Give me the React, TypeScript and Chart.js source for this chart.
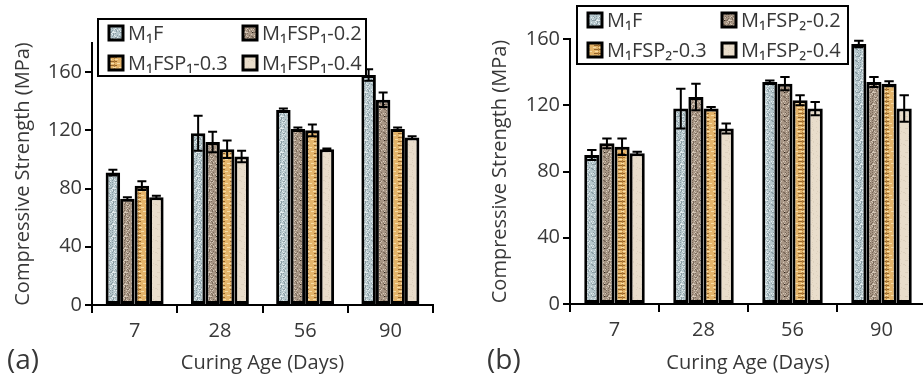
import React, { useEffect, useRef } from 'react';
import { Chart, registerables } from 'chart.js';

Chart.register(...registerables);

// ---------- data ----------
const categories = ['7', '28', '56', '90'];
const yTicksA = [0, 40, 80, 120, 160];
const yTicksB = [0, 40, 80, 120, 160];

const labelsA = ['M₁F', 'M₁FSP₁-0.2', 'M₁FSP₁-0.3', 'M₁FSP₁-0.4'];
const labelsB = ['M₁F', 'M₁FSP₂-0.2', 'M₁FSP₂-0.3', 'M₁FSP₂-0.4'];

// panel (a)
const aM1F = [91, 118, 134, 158];
const aM1FErr = [2, 12, 1, 4];
const aP02 = [73, 112, 121, 141];
const aP02Err = [1, 7, 1, 5];
const aP03 = [82, 107, 120, 121];
const aP03Err = [3, 6, 4, 1];
const aP04 = [74, 102, 107, 115];
const aP04Err = [1, 4, 0.5, 1];

// panel (b)
const bM1F = [90, 118, 134, 157];
const bM1FErr = [3, 12, 1, 2];
const bP02 = [97, 125, 133, 134];
const bP02Err = [3, 8, 4, 3];
const bP03 = [95, 118, 123, 133];
const bP03Err = [5, 1, 3, 1.5];
const bP04 = [91, 106, 118, 118];
const bP04Err = [1, 3, 4, 8];

const FONT = "'Open Sans', sans-serif";
const TEXT = '#383838';

// ---------- textures ----------
function makePattern(kind: number): CanvasPattern | string {
  const c = document.createElement('canvas');
  c.width = 12;
  c.height = 12;
  const g = c.getContext('2d');
  if (!g) return '#ccc';
  const bases = ['#b6c7cc', '#a79584', '#e4b46a', '#e9ddcb'];
  g.fillStyle = bases[kind];
  g.fillRect(0, 0, 12, 12);
  for (let y = 0; y < 12; y++) {
    for (let x = 0; x < 12; x++) {
      const h = (x * 37 + y * 91 + x * y * 17) % 29;
      if (kind === 0) {
        if (h < 6) { g.fillStyle = '#8b9da4'; g.fillRect(x, y, 1, 1); }
        else if (h > 24) { g.fillStyle = '#e4ecee'; g.fillRect(x, y, 1, 1); }
      } else if (kind === 1) {
        if (h < 6) { g.fillStyle = '#7b6a5b'; g.fillRect(x, y, 1, 1); }
        else if (h > 24) { g.fillStyle = '#d5c7b7'; g.fillRect(x, y, 1, 1); }
        if (h === 3 && x % 5 === 0) { g.fillStyle = '#2a2018'; g.fillRect(x, y, 1, 1); }
      } else if (kind === 2) {
        if (y % 4 === 1 && x > 1 && x < 9) { g.fillStyle = '#94642a'; g.fillRect(x, y, 1, 1); }
        else if (y % 4 === 3 && (x + y) % 6 < 3) { g.fillStyle = '#f6dca6'; g.fillRect(x, y, 1, 1); }
        if (x === 6 && y % 4 !== 3) { g.fillStyle = '#b07e3c'; g.fillRect(x, y, 1, 1); }
      } else {
        if (h < 3) { g.fillStyle = '#ddd0bd'; g.fillRect(x, y, 1, 1); }
      }
    }
  }
  return g.createPattern(c, 'repeat') || bases[kind];
}

// ---------- plugins ----------
const errorBarPlugin = {
  id: 'errorBars',
  afterDatasetsDraw(chart: any) {
    const ctx = chart.ctx;
    const yScale = chart.scales.y;
    chart.data.datasets.forEach((ds: any, i: number) => {
      const meta = chart.getDatasetMeta(i);
      meta.data.forEach((bar: any, j: number) => {
        const v = ds.data[j];
        const e = ds.errors[j];
        const yTop = yScale.getPixelForValue(v + e);
        const yBot = yScale.getPixelForValue(v - e);
        const x = bar.x;
        const w = bar.width * 0.62;
        ctx.save();
        ctx.strokeStyle = '#000';
        ctx.lineWidth = 2;
        ctx.beginPath();
        ctx.moveTo(x, yTop);
        ctx.lineTo(x, yBot);
        ctx.moveTo(x - w / 2, yTop);
        ctx.lineTo(x + w / 2, yTop);
        ctx.moveTo(x - w / 2, yBot);
        ctx.lineTo(x + w / 2, yBot);
        ctx.stroke();
        ctx.restore();
      });
    });
  },
};

const boxLegendPlugin = {
  id: 'boxLegend',
  afterDraw(chart: any, _args: any, opts: any) {
    const ctx = chart.ctx;
    const { x, y, w, h, colOffset } = opts;
    ctx.save();
    ctx.fillStyle = '#fff';
    ctx.fillRect(x, y, w, h);
    ctx.strokeStyle = '#000';
    ctx.lineWidth = 2;
    ctx.strokeRect(x, y, w, h);
    ctx.font = `20px ${FONT}`;
    ctx.textBaseline = 'middle';
    ctx.textAlign = 'left';
    chart.data.datasets.forEach((ds: any, i: number) => {
      const col = i % 2;
      const row = Math.floor(i / 2);
      const mx = x + 11 + col * colOffset;
      const my = y + 14 + row * 30;
      ctx.fillStyle = ds.backgroundColor;
      ctx.fillRect(mx, my - 7, 14, 14);
      ctx.lineWidth = 3;
      ctx.strokeStyle = '#000';
      ctx.strokeRect(mx, my - 7, 14, 14);
      ctx.fillStyle = TEXT;
      ctx.fillText(ds.label, mx + 19, my + 1);
    });
    ctx.restore();
  },
};

const panelLetterPlugin = {
  id: 'panelLetter',
  afterDraw(chart: any, _args: any, opts: any) {
    const ctx = chart.ctx;
    ctx.save();
    ctx.font = `28px ${FONT}`;
    ctx.fillStyle = TEXT;
    ctx.textBaseline = 'middle';
    ctx.textAlign = 'left';
    ctx.fillText(opts.text, opts.x, opts.y);
    ctx.restore();
  },
};

function buildConfig(p: {
  labels: string[];
  series: number[][];
  errors: number[][];
  yMax: number;
  yTicks: number[];
  yWidth: number;
  xHeight: number;
  padding: any;
  yTitlePad: number;
  legend: any;
  letter: any;
}) {
  const patterns = [0, 1, 2, 3].map((k) => makePattern(k));
  return {
    type: 'bar' as const,
    data: {
      labels: categories,
      datasets: p.series.map((s, i) => ({
        label: p.labels[i],
        data: s,
        errors: p.errors[i],
        backgroundColor: patterns[i],
        borderColor: '#000',
        borderWidth: 3,
        borderSkipped: false,
        categoryPercentage: 0.68,
        barPercentage: 1.0,
      })),
    },
    options: {
      animation: false,
      responsive: false,
      maintainAspectRatio: false,
      layout: { padding: p.padding },
      plugins: {
        legend: { display: false },
        tooltip: { enabled: false },
        boxLegend: p.legend,
        panelLetter: p.letter,
      },
      scales: {
        x: {
          grid: {
            display: true,
            drawOnChartArea: false,
            drawTicks: true,
            tickLength: 8,
            color: '#000',
            lineWidth: 2,
            offset: true,
          },
          border: { display: true, color: '#000', width: 2 },
          ticks: { color: TEXT, font: { family: FONT, size: 20 }, padding: 6 },
          title: {
            display: true,
            text: 'Curing Age (Days)',
            color: TEXT,
            font: { family: FONT, size: 20 },
            padding: { top: 0, bottom: 7 },
          },
          afterFit(scale: any) {
            scale.height = p.xHeight;
          },
        },
        y: {
          min: 0,
          max: p.yMax,
          grid: {
            display: true,
            drawOnChartArea: false,
            drawTicks: true,
            tickLength: 7,
            color: '#000',
            lineWidth: 2,
          },
          border: { display: true, color: '#000', width: 2 },
          ticks: { color: TEXT, font: { family: FONT, size: 20 }, padding: 3 },
          afterBuildTicks(scale: any) {
            scale.ticks = p.yTicks.map((v) => ({ value: v }));
          },
          title: {
            display: true,
            text: 'Compressive Strength (MPa)',
            color: TEXT,
            font: { family: FONT, size: 20 },
            padding: { top: p.yTitlePad, bottom: 0 },
          },
          afterFit(scale: any) {
            scale.width = p.yWidth;
          },
        },
      },
    },
    plugins: [errorBarPlugin, boxLegendPlugin, panelLetterPlugin],
  };
}

function Panel(props: { cfg: any; left: number; width: number }) {
  const ref = useRef<HTMLCanvasElement | null>(null);
  useEffect(() => {
    if (!ref.current) return;
    const chart = new Chart(ref.current, props.cfg as any);
    return () => chart.destroy();
  }, []);
  return (
    <canvas
      ref={ref}
      width={props.width}
      height={382}
      style={{ position: 'absolute', left: props.left, top: 0, width: props.width, height: 382 }}
    />
  );
}

export default function App() {
  const cfgA = buildConfig({
    labels: labelsA,
    series: [aM1F, aP02, aP03, aP04],
    errors: [aM1FErr, aP02Err, aP03Err, aP04Err],
    yMax: 180,
    yTicks: yTicksA,
    yWidth: 92,
    xHeight: 77,
    padding: { top: 43, right: 27, left: 0, bottom: 0 },
    yTitlePad: 11,
    legend: { x: 98, y: 19, w: 268, h: 57, colOffset: 134 },
    letter: { text: '(a)', x: 7, y: 361 },
  });
  const cfgB = buildConfig({
    labels: labelsB,
    series: [bM1F, bP02, bP03, bP04],
    errors: [bM1FErr, bP02Err, bP03Err, bP04Err],
    yMax: 160,
    yTicks: yTicksB,
    yWidth: 110,
    xHeight: 78,
    padding: { top: 39, right: 14, left: 0, bottom: 0 },
    yTitlePad: 28,
    legend: { x: 117, y: 6, w: 271, h: 58, colOffset: 134 },
    letter: { text: '(b)', x: 27, y: 361 },
  });
  return (
    <div
      style={{
        position: 'absolute',
        left: 0,
        top: 0,
        width: 923,
        height: 382,
        overflow: 'hidden',
        background: '#fff',
      }}
    >
      <Panel cfg={cfgA} left={0} width={460} />
      <Panel cfg={cfgB} left={460} width={480} />
    </div>
  );
}
